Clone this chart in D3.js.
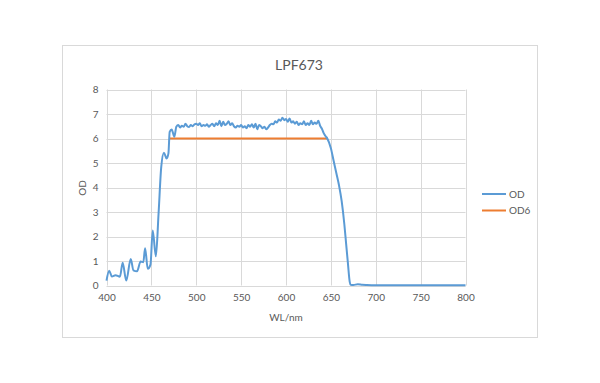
<!DOCTYPE html>
<html><head><meta charset="utf-8">
<script src="https://cdn.jsdelivr.net/npm/d3@7"></script>
<style>body{margin:0;background:#fff}svg{display:block}text{font-family:Lato,"Open Sans",sans-serif;fill:#595959}</style>
</head><body>
<script>
const odWL = [400,403,406,410,415,418,422,427,430,434,438,441,443,446,449,451.5,455,458,461,464,467,469,470.4,472.6,475.6,477.8,
480,482,484,486,488,490,492,494,496,498,500,502,504,506,508,510,512,514,516,518,520,522,524,526,528,530,532,534,536,538,540,
542,544,546,548,550,552,554,556,558,560,562,564,566,568,570,572,574,576,578,580,582,584,586,588,590,592,594,596,598,600,
602,604,606,608,610,612,614,616,618,620,622,624,626,628,630,632,634,636,638,640,642,644,646,
650,653,656,659,662,665,667,669,671,672,675,680,685,690,700,750,800];
const odVal = [0.2,0.6,0.37,0.42,0.36,0.93,0.2,1.08,0.62,0.58,0.98,0.95,1.52,0.68,0.85,2.25,1.19,2.93,4.84,5.42,5.18,5.39,6.27,6.37,6.07,6.48,
6.55,6.45,6.52,6.48,6.6,6.5,6.47,6.55,6.5,6.58,6.6,6.55,6.62,6.5,6.55,6.52,6.58,6.48,6.55,6.6,6.5,6.62,6.55,6.72,6.5,6.68,6.55,6.6,6.7,6.55,6.62,
6.5,6.45,6.52,6.48,6.55,6.45,6.5,6.42,6.55,6.48,6.58,6.45,6.6,6.38,6.55,6.5,6.42,6.48,6.38,6.45,6.55,6.6,6.58,6.7,6.65,6.78,6.72,6.85,6.75,6.8,
6.68,6.82,6.65,6.7,6.6,6.68,6.55,6.62,6.58,6.7,6.55,6.62,6.55,6.72,6.58,6.65,6.6,6.72,6.52,6.4,6.22,6.1,6.0,
5.6,5.1,4.6,4.1,3.45,2.5,1.7,0.9,0.15,0.03,0.02,0.05,0.03,0.02,0.01,0.01,0.01];
const od6WL = [470,646];
const od6Val = [6,6];
const xTicks = [400,450,500,550,600,650,700,750,800];
const yTicks = [0,1,2,3,4,5,6,7,8];
const seriesNames = ["OD","OD6"];
const colors = ["#5B9BD5","#ED7D31"];

const W=600,H=383;
const svg=d3.select("body").append("svg").attr("width",W).attr("height",H);
svg.append("rect").attr("x",62.5).attr("y",45.5).attr("width",475).attr("height",292).attr("fill","#fff").attr("stroke","#d9d9d9");
const x=d3.scaleLinear().domain([400,800]).range([106.5,465.5]);
const y=d3.scaleLinear().domain([0,8]).range([285.5,89.5]);

svg.append("g").selectAll("line").data(yTicks).join("line")
 .attr("x1",x(400)).attr("x2",x(800)).attr("y1",d=>Math.round(y(d))+0.5).attr("y2",d=>Math.round(y(d))+0.5)
 .attr("stroke","#d9d9d9");
svg.append("g").selectAll("line").data(xTicks).join("line")
 .attr("y1",y(0)).attr("y2",y(8)).attr("x1",d=>Math.round(x(d))+0.5).attr("x2",d=>Math.round(x(d))+0.5)
 .attr("stroke","#d9d9d9");

const xAxis=svg.append("g").attr("transform",`translate(0,${y(0)})`).call(d3.axisBottom(x).tickValues(xTicks).tickSize(0).tickPadding(8));
xAxis.select(".domain").remove();
xAxis.selectAll("text").attr("font-size",10).attr("fill","#595959").style("font-family","Lato,sans-serif");
const yAxis=svg.append("g").attr("transform",`translate(${x(400)},0)`).call(d3.axisLeft(y).tickValues(yTicks).tickSize(0).tickPadding(8));
yAxis.select(".domain").remove();
yAxis.selectAll("text").attr("font-size",10).attr("fill","#595959").style("font-family","Lato,sans-serif");

const line=d3.line().x(d=>x(d[0])).y(d=>y(d[1]));
const smooth=d3.line().x(d=>x(d[0])).y(d=>y(d[1])).curve(d3.curveMonotoneX);
svg.append("path").datum(od6WL.map((d,i)=>[d,od6Val[i]])).attr("d",line).attr("fill","none").attr("stroke",colors[1]).attr("stroke-width",2);
svg.append("path").datum(odWL.map((d,i)=>[d,odVal[i]])).attr("d",smooth).attr("fill","none").attr("stroke",colors[0]).attr("stroke-width",2).attr("stroke-linejoin","round");

svg.append("text").attr("x",299).attr("y",70).attr("text-anchor","middle").attr("font-size",14).text("LPF673");
svg.append("text").attr("x",286).attr("y",321).attr("text-anchor","middle").attr("font-size",10).text("WL/nm");
svg.append("text").attr("transform","translate(86,188) rotate(-90)").attr("text-anchor","middle").attr("font-size",10).text("OD");

const lg=svg.append("g").selectAll("g").data(seriesNames).join("g").attr("transform",(d,i)=>`translate(482,${194+i*16.5})`);
lg.append("line").attr("x1",0).attr("x2",24).attr("stroke",(d,i)=>colors[i]).attr("stroke-width",2);
lg.append("text").attr("x",27).attr("dy","0.35em").attr("font-size",10).text(d=>d);
</script>
</body></html>
